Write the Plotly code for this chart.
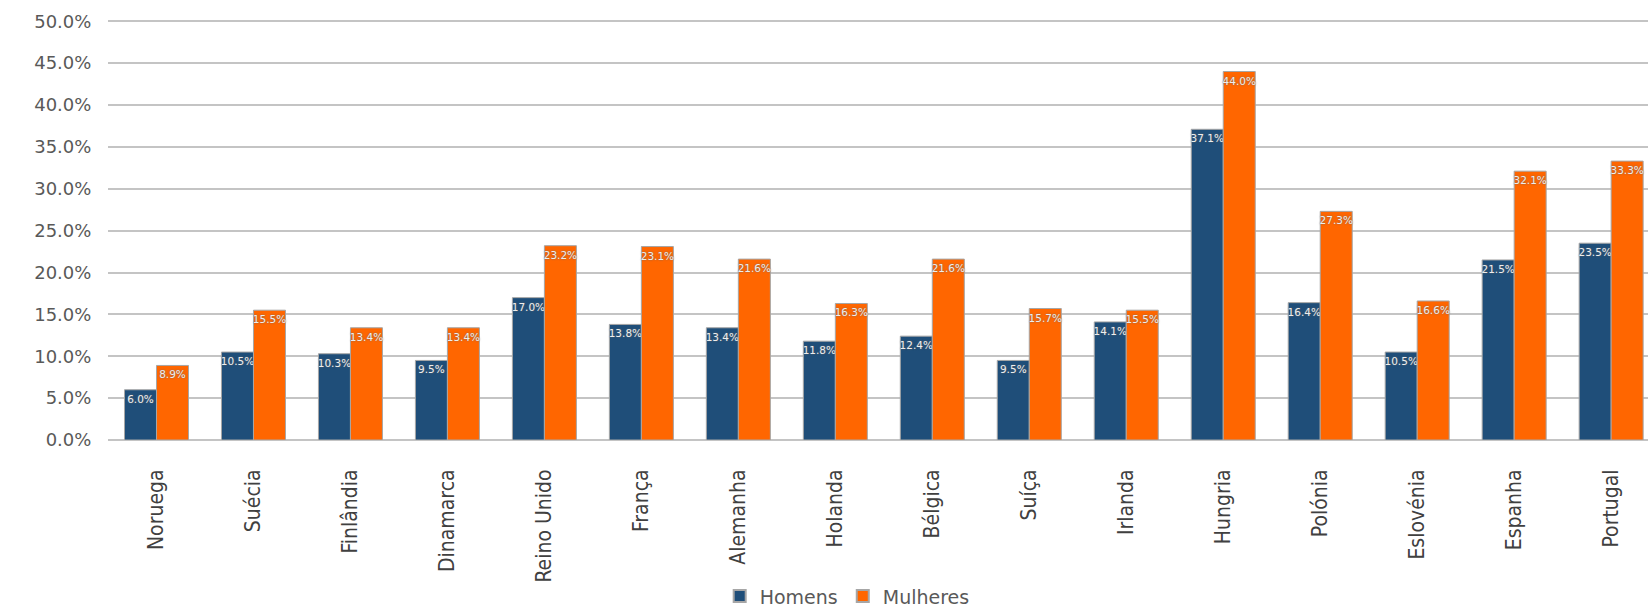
import plotly.graph_objects as go

paises = ["Noruega", "Suécia", "Finlândia", "Dinamarca", "Reino Unido", "França",
          "Alemanha", "Holanda", "Bélgica", "Suíça", "Irlanda", "Hungria",
          "Polónia", "Eslovénia", "Espanha", "Portugal"]
homens = [6.0, 10.5, 10.3, 9.5, 17.0, 13.8, 13.4, 11.8, 12.4, 9.5, 14.1, 37.1,
          16.4, 10.5, 21.5, 23.5]
mulheres = [8.9, 15.5, 13.4, 13.4, 23.2, 23.1, 21.6, 16.3, 21.6, 15.7, 15.5, 44.0,
            27.3, 16.6, 32.1, 33.3]
eixo_y = [0, 5, 10, 15, 20, 25, 30, 35, 40, 45, 50]

AZUL = "#1f4e79"
LARANJA = "#ff6600"
GRADE = "#c4c4c4"

label_font = dict(family="DejaVu Sans", size=10.5, color="#eeeeee",
                  shadow="0px 0px 2px #666666")


def serie(nome, valores, cor):
    return go.Bar(
        name=nome, x=paises, y=valores,
        marker=dict(color=cor, line=dict(color="#a6a6a6", width=1)),
        text=[f"{v:.1f}%" for v in valores],
        textposition="inside", insidetextanchor="end", textangle=0,
        constraintext="none", textfont=label_font, cliponaxis=False,
    )


fig = go.Figure([serie("Homens", homens, AZUL), serie("Mulheres", mulheres, LARANJA)])

fig.update_layout(
    width=1648, height=607,
    margin=dict(l=108, r=0, t=20, b=167, autoexpand=False),
    paper_bgcolor="white", plot_bgcolor="white",
    barmode="group", bargap=0.34, bargroupgap=0,
    showlegend=True,
    legend=dict(orientation="h", x=0.48, xanchor="center", y=-0.372, yanchor="middle",
                font=dict(family="DejaVu Sans", size=19, color="#595959"),
                itemsizing="constant", traceorder="normal"),
)

fig.update_xaxes(
    range=[-0.5, 15.38], tickangle=-90, automargin=False,
    ticks="outside", ticklen=20, tickcolor="rgba(0,0,0,0)",
    tickfont=dict(family="DejaVu Sans Condensed, Liberation Sans Narrow, DejaVu Sans",
                  size=21, color="#404040"),
    showline=False, showgrid=False,
)

fig.update_yaxes(
    range=[0, 50.15], tickmode="array", tickvals=eixo_y,
    ticktext=[f"{v:.1f}%" for v in eixo_y], automargin=False,
    ticks="outside", ticklen=12, tickcolor="rgba(0,0,0,0)",
    tickfont=dict(family="DejaVu Sans", size=18, color="#595959"),
    showgrid=True, gridcolor=GRADE, gridwidth=2,
    zeroline=True, zerolinecolor=GRADE, zerolinewidth=2, showline=False,
)

fig.write_html("out.html")
